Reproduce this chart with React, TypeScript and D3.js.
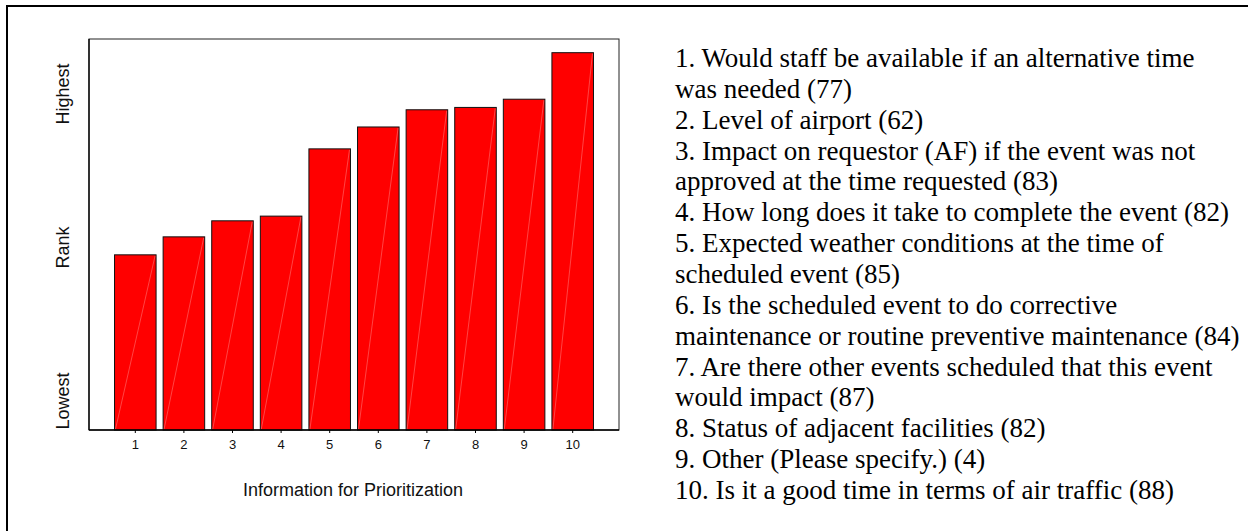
import * as d3 from 'd3';
import React from 'react';

// mean rank per prioritization item, 0 = lowest, 10 = highest
const items = ['1', '2', '3', '4', '5', '6', '7', '8', '9', '10'];
const rankValues = [4.48, 4.94, 5.35, 5.47, 7.19, 7.75, 8.19, 8.25, 8.46, 9.65];
const rankLabels = ['Lowest', 'Rank', 'Highest'];
const legendLines = [
  '1. Would staff be available if an alternative time',
  'was needed (77)',
  '2. Level of airport (62)',
  '3. Impact on requestor (AF) if the event was not',
  'approved at the time requested (83)',
  '4. How long does it take to complete the event (82)',
  '5. Expected weather conditions at the time of',
  'scheduled event (85)',
  '6. Is the scheduled event to do corrective',
  'maintenance or routine preventive maintenance (84)',
  '7. Are there other events scheduled that this event',
  'would impact (87)',
  '8. Status of adjacent facilities (82)',
  '9. Other (Please specify.) (4)',
  '10. Is it a good time in terms of air traffic (88)',
];

const W = 1248;
const H = 531;
const sans = '"Liberation Sans", Arial, sans-serif';
const serif = '"Liberation Serif", "Times New Roman", serif';

export default function App() {
  const plot = { left: 89, top: 39, right: 619, bottom: 430 };

  const x = d3
    .scaleBand<string>()
    .domain(items)
    .range([111, 597])
    .paddingInner(0.145)
    .paddingOuter(0.0725);
  const y = d3.scaleLinear().domain([0, 10]).range([plot.bottom, plot.top]);
  const yLab = d3.scalePoint<string>().domain(rankLabels).range([401, 94]);
  const legendY = d3.scaleLinear().domain([0, legendLines.length - 1]).range([67, 499]);

  return (
    <svg width={W} height={H} style={{ position: 'absolute', left: 0, top: 0, background: '#fff' }}>
      {/* outer frame (only top and left edges are inside the picture) */}
      <line x1={6} y1={6} x2={W} y2={6} stroke="#000" strokeWidth={2} />
      <line x1={7} y1={5} x2={7} y2={H} stroke="#000" strokeWidth={2} />

      {/* plot box */}
      <rect
        x={plot.left}
        y={plot.top}
        width={plot.right - plot.left}
        height={plot.bottom - plot.top}
        fill="#fff"
        stroke="#222"
        strokeWidth={1}
      />

      {items.map((d, i) => {
        const x0 = x(d)!;
        const bw = x.bandwidth();
        const top = y(rankValues[i]);
        return (
          <g key={d}>
            <rect x={x0} y={top} width={bw} height={plot.bottom - top} fill="#ff0000" stroke="#111" strokeWidth={1} />
            <line x1={x0 + 1} y1={plot.bottom - 1} x2={x0 + bw - 1} y2={top + 1} stroke="#fff" strokeOpacity={0.45} strokeWidth={0.6} />
          </g>
        );
      })}

      {/* axes */}
      <line x1={plot.left} y1={plot.bottom} x2={plot.right} y2={plot.bottom} stroke="#000" strokeWidth={1.5} />
      <line x1={plot.left} y1={plot.top} x2={plot.left} y2={plot.bottom} stroke="#000" strokeWidth={1.3} />
      {items.map((d) => {
        const cx = x(d)! + x.bandwidth() / 2;
        return (
          <g key={'t' + d}>
            <line x1={cx} y1={plot.bottom} x2={cx} y2={plot.bottom + 3} stroke="#000" strokeWidth={1} />
            <text x={cx} y={449} textAnchor="middle" fontFamily={sans} fontSize={13} fill="#111">
              {d}
            </text>
          </g>
        );
      })}
      <text x={353} y={496} textAnchor="middle" fontFamily={sans} fontSize={18} fill="#111">
        Information for Prioritization
      </text>

      {/* y labels */}
      {rankLabels.map((d) => (
        <text
          key={d}
          transform={`translate(69,${yLab(d)}) rotate(-90)`}
          textAnchor="middle"
          fontFamily={sans}
          fontSize={18}
          fill="#111"
        >
          {d}
        </text>
      ))}

      {/* legend */}
      {legendLines.map((t, i) => (
        <text key={i} x={675} y={legendY(i)} fontFamily={serif} fontSize={27} fill="#000">
          {t}
        </text>
      ))}
    </svg>
  );
}
